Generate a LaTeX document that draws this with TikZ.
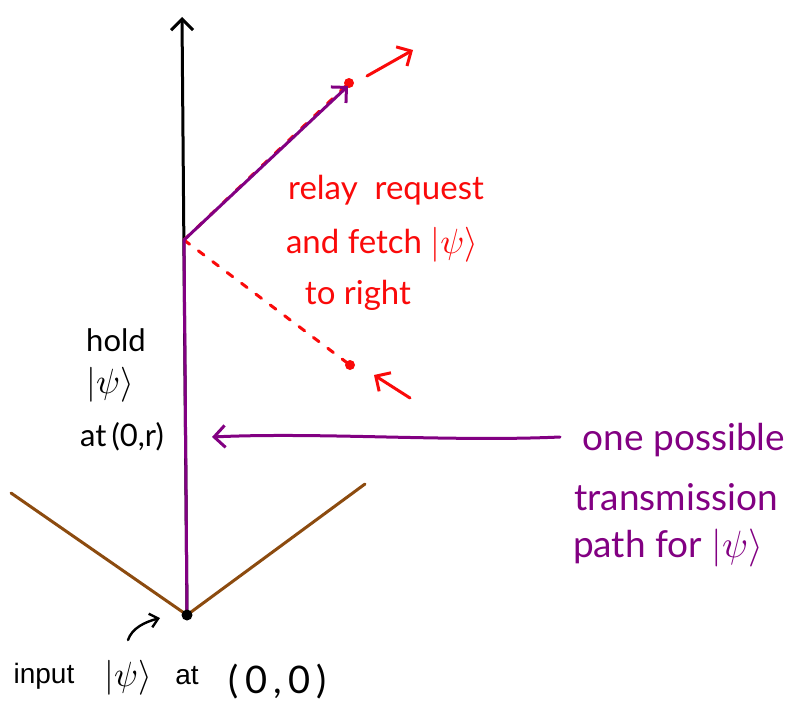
\documentclass[tikz,border=0pt]{standalone}
\usepackage{graphicx}
\usepackage{fontspec}
\setmainfont{Lato}
\newfontfamily\arialfont{Liberation Sans}
\usetikzlibrary{arrows.meta}
\newcommand{\qpsi}[1]{\scalebox{#1}{\normalsize$|\psi\rangle$}}
\definecolor{hred}{RGB}{250,10,10}
\definecolor{hpurple}{RGB}{130,0,130}
\definecolor{hbrown}{RGB}{140,75,15}
\tikzset{
  pen/.style={line width=3pt, line cap=round, line join=round},
  openhead/.style={-{Straight Barb[length=11pt,width=22pt,line width=3pt]}},
  hand/.style={align=center, inner sep=0pt},
  redtext/.style={hand, hred, font=\fontsize{33}{38}\selectfont},
  blacktext/.style={hand, black, font=\fontsize{31}{36}\selectfont},
  purpletext/.style={hand, hpurple, font=\fontsize{37}{42}\selectfont},
  printtext/.style={inner sep=0pt, font=\arialfont\fontsize{28}{32}\selectfont},
  dotline/.style={pen, hred, dash pattern=on 7pt off 11pt}
}
\begin{document}
\begin{tikzpicture}[x=1pt,y=-1pt]
\useasboundingbox (0,0) rectangle (811,701);
% coordinates
\coordinate (O) at (187,615);
\coordinate (A) at (184,240);
\coordinate (T) at (348,86);
\coordinate (axtop) at (182,17);
\coordinate (bl) at (11,493);
\coordinate (br) at (365,484);
\coordinate (rd1) at (349,83);
\coordinate (ra1s) at (367,76);
\coordinate (ra1e) at (413,50);
\coordinate (rd2) at (350,365);
\coordinate (ra2s) at (410,398);
\coordinate (ra2e) at (374,375);
\coordinate (pas) at (560,437);
\coordinate (pae) at (212,437);
\coordinate (sas) at (128,640);
\coordinate (sae) at (160,618);
% brown lines
\draw[pen, hbrown] (bl) -- (O) -- (br);
% axis
\draw[pen, black, openhead] (O) -- (axtop);
% red dotted
\draw[dotline] (A) -- (rd1);
\draw[dotline] (A) -- (rd2);
\fill[hred] (rd1) circle (5pt);
\fill[hred] (rd2) circle (5pt);
\draw[pen, hred, openhead] (ra1s) -- (ra1e);
\draw[pen, hred, openhead] (ra2s) -- (ra2e);
% purple path
\draw[pen, hpurple, openhead] (O) -- (A) -- (T);
\fill[black] (O) circle (5.5pt);
% purple pointer
\draw[pen, hpurple, openhead] (pas) .. controls (450,442) and (320,432) .. (pae);
% small black arrow
\draw[line width=2.4pt, black, line cap=round, -{Straight Barb[length=8pt,width=14pt,line width=2.4pt]}] (sas) .. controls (132,628) and (145,622) .. (sae);
% texts
\node[redtext] (relay) at (386,190) {relay\ \ request};
\node[redtext] (fetch) at (382,245) {and fetch \qpsi{3.5}};
\node[redtext] (right) at (358,295) {to right};
\node[blacktext] (hold) at (116,340) {hold};
\node[blacktext] (psi1) at (110,385) {\qpsi{3.5}};
\node[blacktext] (at0r) at (122,437) {at\,(0,r)};
\node[purpletext] (one) at (684,440) {one possible};
\node[purpletext] (trans) at (676,497) {transmission};
\node[purpletext] (path) at (668,548) {path for \qpsi{3.8}};
\node[printtext] (input) at (44,676) {input};
\node[blacktext] (psi2) at (128,678) {\qpsi{3.5}};
\node[printtext] (at) at (187,676) {at};
\node[hand, black, font=\fontsize{38}{42}\selectfont] (zero) at (278,682) {(\,0\,,\,0\,)};
\end{tikzpicture}
\end{document}
